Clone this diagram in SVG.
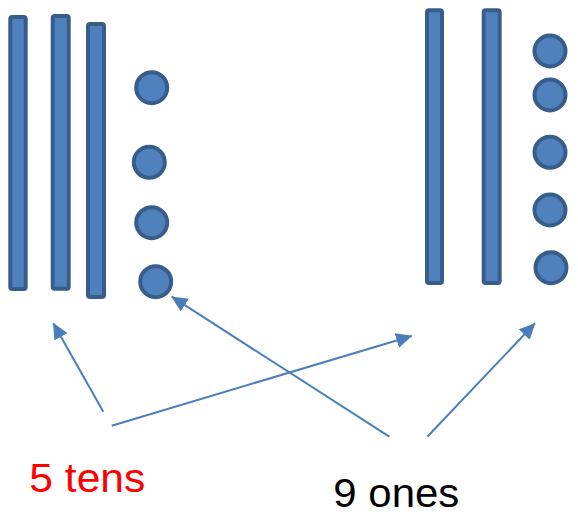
<svg xmlns="http://www.w3.org/2000/svg" width="578" height="519" viewBox="0 0 578 519">
<style>
.bar{fill:#4f81bd;stroke:#385d8a;stroke-width:4}
.dot{fill:#4f81bd;stroke:#385d8a;stroke-width:4}
.arr{stroke:#4a7ebb;stroke-width:2;fill:none;marker-end:url(#ah)}
.lbl{font-family:"Liberation Sans",Arial,sans-serif;font-size:41px}
</style>
<defs>
<marker id="ah" markerUnits="userSpaceOnUse" markerWidth="17" markerHeight="16" refX="15.5" refY="7.5" orient="auto" viewBox="0 0 17 16">
<path d="M0,0 L16,7.5 L0,15 z" fill="#4a7ebb"/>
</marker>
</defs>
<rect width="578" height="519" fill="#ffffff"/>
<g id="tens-left">
<rect id="bar1" class="bar" x="10.3" y="17" width="15.4" height="272" rx="2"/>
<rect id="bar2" class="bar" x="52.7" y="16" width="16" height="272.7" rx="2"/>
<rect id="bar3" class="bar" x="88" y="24" width="16" height="273" rx="2"/>
</g>
<g id="ones-left">
<circle class="dot" cx="151.7" cy="87.7" r="15.5"/>
<circle class="dot" cx="149.3" cy="162.3" r="15.5"/>
<circle class="dot" cx="151.7" cy="222.7" r="15.5"/>
<circle class="dot" cx="155.7" cy="281.7" r="15.5"/>
</g>
<g id="tens-right">
<rect id="bar4" class="bar" x="427" y="10.3" width="15" height="272.7" rx="2"/>
<rect id="bar5" class="bar" x="483.7" y="10.3" width="16" height="272.7" rx="2"/>
</g>
<g id="ones-right">
<circle class="dot" cx="550" cy="51" r="15.5"/>
<circle class="dot" cx="550" cy="95" r="15.5"/>
<circle class="dot" cx="550" cy="152.3" r="15.5"/>
<circle class="dot" cx="550" cy="210" r="15.5"/>
<circle class="dot" cx="551" cy="267.7" r="15.5"/>
</g>
<g id="connectors">
<line class="arr" x1="103.3" y1="411.7" x2="53.3" y2="323.3"/>
<line class="arr" x1="111.7" y1="425.7" x2="411.7" y2="336"/>
<line class="arr" x1="389.3" y1="436.7" x2="171.7" y2="296.7"/>
<line class="arr" x1="427.3" y1="436.7" x2="535" y2="323.3"/>
</g>
<g id="label-tens">
<text class="lbl" x="29.3" y="491.7" fill="#ff0000" textLength="116" lengthAdjust="spacingAndGlyphs">5 tens</text>
</g>
<g id="label-ones">
<text class="lbl" x="333.3" y="506.7" fill="#000000" textLength="126" lengthAdjust="spacingAndGlyphs">9 ones</text>
</g>
</svg>
